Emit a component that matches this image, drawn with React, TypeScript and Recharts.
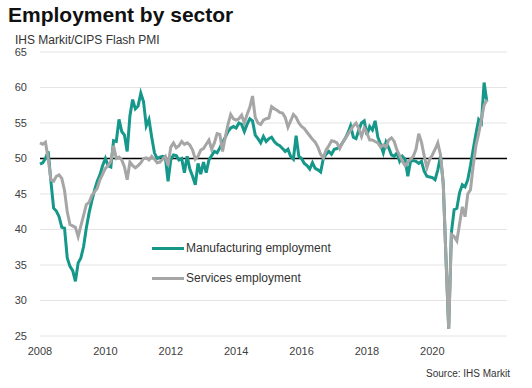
import { CartesianGrid, Line, LineChart, ReferenceLine, XAxis, YAxis } from 'recharts';

// monthly flash PMI employment indices, Jan 2008 onward
const manufacturing = [
  49.2, 49.4, 50.0, 51.0, 46.8, 43.0, 42.6, 41.8, 40.3, 40.2, 36.0, 34.8,
  34.2, 32.7, 35.3, 36.0, 37.6, 40.2, 42.3, 44.0, 45.5, 46.8, 47.7, 49.0,
  50.0, 49.0, 48.8, 52.5, 52.4, 55.5, 53.8, 53.3, 51.0, 56.0, 58.3, 57.0,
  57.4, 59.2, 58.0, 54.6, 55.5, 53.0, 50.8, 50.0, 50.2, 50.3, 50.2, 46.8,
  49.8, 50.5, 50.4, 49.8, 50.0, 48.0, 50.3, 48.5, 47.5, 46.3, 49.3, 47.8,
  49.5, 48.0, 49.8, 50.4, 51.0, 50.8, 51.5, 52.3, 53.0, 53.8, 54.3, 54.5,
  54.3, 55.0, 54.8, 53.8, 54.8, 55.6, 55.3, 53.3, 52.8, 52.2, 53.1, 52.4,
  52.8, 53.0, 52.4, 52.0, 51.8, 51.4, 51.0, 51.3, 50.3, 49.9, 53.2, 50.3,
  50.0, 49.3, 49.0, 48.5, 49.4, 48.6, 48.4, 48.1, 50.0, 50.6, 51.0, 50.6,
  51.3, 51.4, 51.6, 52.2, 52.8, 53.6, 54.6, 53.0, 52.8, 54.0, 55.0, 55.3,
  53.3, 54.5, 54.0, 55.3, 53.0, 52.0, 50.8, 52.3, 51.5, 50.5, 50.3, 50.8,
  49.6, 50.3, 49.9, 47.5, 49.6, 49.7, 49.6, 49.3, 49.6, 48.2, 47.5, 47.4,
  47.3, 47.0, 48.4, 50.3, 46.5, 36.0, 26.0, 39.6, 42.8, 43.0, 45.2, 46.3,
  46.0, 47.0, 49.0, 51.3, 53.5, 55.5, 55.0, 60.7, 58.0,
];

const services = [
  52.2, 52.0, 52.3, 50.0, 47.0, 46.8, 47.5, 47.7, 47.2, 45.5, 42.5, 40.7,
  40.5, 40.3, 39.0, 40.5, 42.0, 43.5, 43.8, 44.8, 45.3, 45.8, 47.0, 47.8,
  48.6, 49.0, 49.6, 51.8, 50.0, 50.2, 49.8, 48.8, 47.0, 49.5, 49.0, 48.7,
  49.0, 49.4, 50.0, 50.1, 49.8, 50.3, 49.9, 49.4, 49.5, 49.9, 50.3, 49.0,
  51.6, 52.2, 51.5, 51.8, 52.4, 52.0, 52.2, 51.9, 51.2, 49.9, 50.3, 51.2,
  51.4, 52.0, 52.6, 51.3, 52.2, 53.5, 53.4, 51.0, 53.0, 54.8, 56.2, 55.6,
  55.4, 55.6, 56.1, 55.0, 56.2, 57.2, 58.8, 55.8, 55.0, 54.8, 55.4, 55.6,
  55.7, 57.3, 57.0, 56.8, 56.5, 56.4, 55.8, 54.4, 55.3, 56.2, 55.8, 55.0,
  54.5, 54.2, 53.7, 53.2, 52.7, 52.3, 51.6, 50.6, 50.1, 51.2, 51.8, 52.5,
  52.4, 52.2, 51.4, 52.2, 52.8, 53.4, 54.0, 54.6, 55.0, 54.2, 53.1, 54.3,
  53.6, 52.6, 52.6, 52.4, 52.2, 51.6, 51.9, 51.6, 52.6, 52.9, 52.4, 51.2,
  50.4, 49.6, 49.0, 49.5, 49.9, 50.3, 51.3, 53.5, 52.3, 50.4, 48.7, 49.9,
  50.5, 51.3, 52.2, 50.5, 46.5, 36.0, 26.0, 39.3, 39.0, 38.4, 40.8, 43.2,
  41.8, 45.0, 45.6, 49.0, 51.8, 53.5, 55.5, 57.5, 58.3,
];

const firstYear = 2008;
const yearLabels = ['2008', '2010', '2012', '2014', '2016', '2018', '2020'];
const yTicks = [25, 30, 35, 40, 45, 50, 55, 60, 65];

const TEAL = '#15978a';
const GREY = '#a6a6a6';
const FONT = '"Liberation Sans", Arial, sans-serif';

const seriesList = [
  { key: 'manufacturing', name: 'Manufacturing employment', color: TEAL },
  { key: 'services', name: 'Services employment', color: GREY },
];

const data = manufacturing.map((v, i) => ({ month: i, manufacturing: v, services: services[i] }));
const xTicks = yearLabels.map((y) => (Number(y) - firstYear) * 12);

export default function App() {
  return (
    <div style={{ position: 'absolute', left: 0, top: 0, width: 532, height: 388, background: '#fff', fontFamily: FONT }}>
      <div style={{ position: 'absolute', left: 8, top: 4, fontSize: 21, lineHeight: '21px', fontWeight: 'bold', color: '#111' }}>
        Employment by sector
      </div>
      <div style={{ position: 'absolute', left: 15, top: 34, fontSize: 12, lineHeight: '12px', color: '#333' }}>
        IHS Markit/CIPS Flash PMI
      </div>
      <LineChart width={532} height={388} data={data} margin={{ top: 52, right: 25, bottom: 32, left: 0 }}>
        <CartesianGrid vertical={false} stroke="#e4e4e4" strokeWidth={1} />
        <XAxis
          dataKey="month"
          type="number"
          domain={[0, 171.4]}
          ticks={xTicks}
          tickFormatter={(m: number) => String(firstYear + m / 12)}
          axisLine={false}
          tickLine={false}
          tickMargin={5}
          height={20}
          tick={{ fontSize: 11, fill: '#404040', fontFamily: FONT }}
        />
        <YAxis
          domain={[25, 65]}
          ticks={yTicks}
          width={40}
          axisLine={false}
          tickLine={false}
          tickMargin={7}
          tick={{ fontSize: 11, fill: '#404040', fontFamily: FONT }}
        />
        <ReferenceLine y={50} stroke="#000" strokeWidth={1.5} />
        {seriesList.map((s) => (
          <Line
            key={s.key}
            dataKey={s.key}
            name={s.name}
            stroke={s.color}
            strokeWidth={3}
            dot={false}
            type="linear"
            isAnimationActive={false}
          />
        ))}
      </LineChart>
      <div style={{ position: 'absolute', left: 152, top: 233, fontSize: 12, color: '#333' }}>
        {seriesList.map((s) => (
          <div key={s.key} style={{ display: 'flex', alignItems: 'center', height: 30 }}>
            <span style={{ display: 'inline-block', width: 32, height: 3, background: s.color, marginRight: 2 }} />
            <span>{s.name}</span>
          </div>
        ))}
      </div>
      <div style={{ position: 'absolute', right: 22, top: 369, fontSize: 10, lineHeight: '10px', color: '#333' }}>
        Source: IHS Markit
      </div>
    </div>
  );
}
